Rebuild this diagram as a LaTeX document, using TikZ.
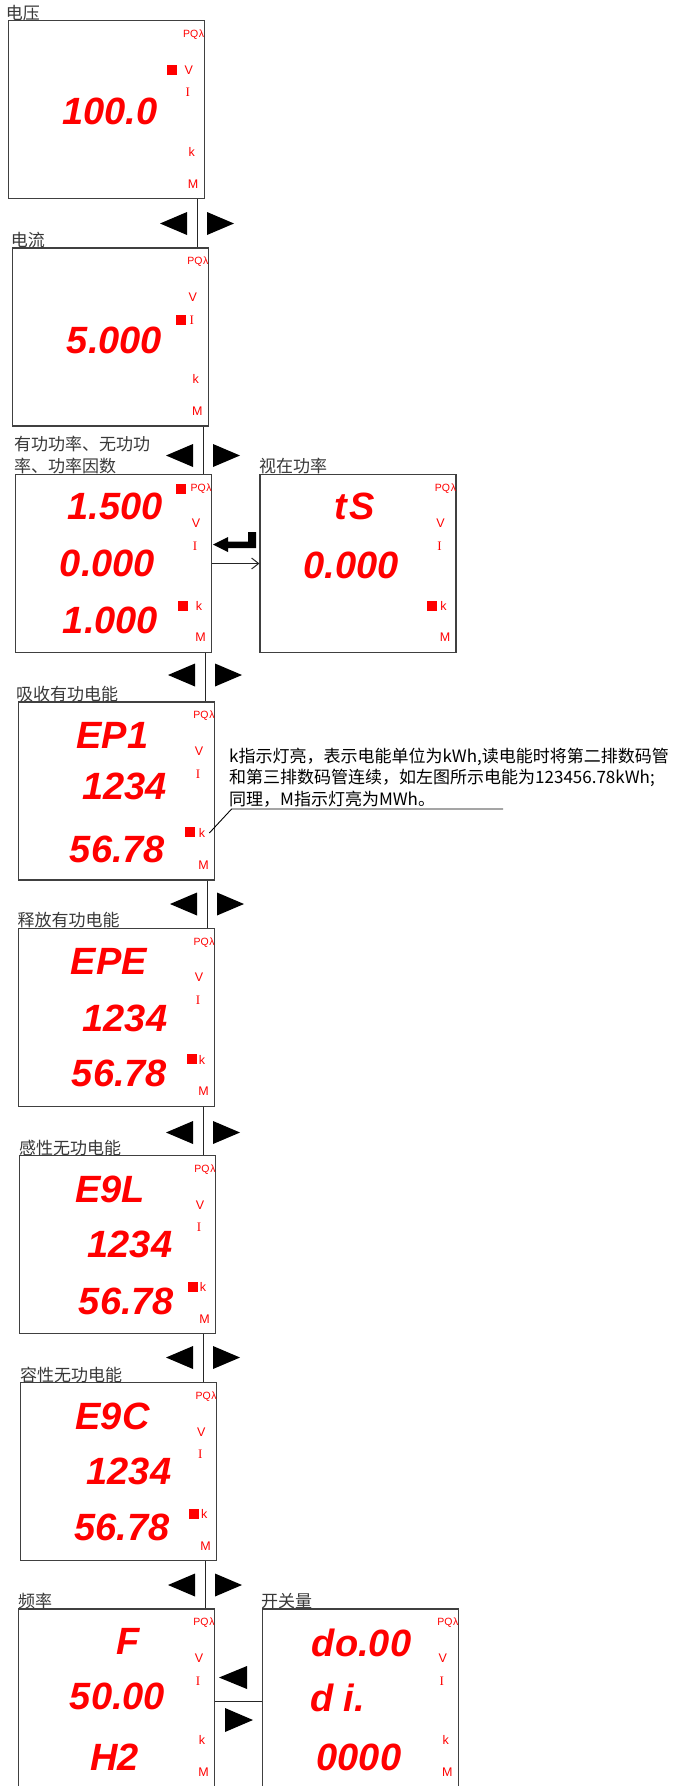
\documentclass[tikz,border=0pt]{standalone}
\usepackage{fontspec}
\setmainfont{Liberation Sans}
\newfontfamily\cjk{Noto Sans CJK SC}
\newfontfamily\segfont{Liberation Sans}
\newfontfamily\serifI{Liberation Serif}
\usetikzlibrary{arrows.meta}
\newcommand\indic[3]{%
  \node[pq] (#1pq) at ({#2-10.5},{#3+14}) {PQ\kern0.6ptλ};
  \node[ind] (#1v) at ({#2-15.5},{#3+49}) {V};
  \node[indI] (#1i) at ({#2-16.5},{#3+72}) {I};
  \node[ind] (#1k) at ({#2-12.5},{#3+131}) {k};
  \node[ind] (#1m) at ({#2-11},{#3+163}) {M};
}
\newcommand\navpair[2]{%
  \fill[nav] ({#1-10},{#2-11.5}) -- ({#1-10},{#2+11.5}) -- ({#1-37},#2) -- cycle;
  \fill[nav] ({#1+10},{#2-11.5}) -- ({#1+10},{#2+11.5}) -- ({#1+37},#2) -- cycle;
}
\begin{document}
\begin{tikzpicture}[x=1pt,y=-1pt,
  box/.style={draw=black!75, line width=1.2pt, minimum width=196pt, minimum height=178pt, inner sep=0pt},
  ttl/.style={font=\cjk\fontsize{17}{22}\selectfont, text=black!78, anchor=south west, inner sep=0pt, align=left},
  seg/.style={font=\segfont\bfseries\itshape\fontsize{38}{40}\selectfont, text=red, inner sep=0pt},
  ind/.style={font=\fontsize{12.5}{13}\selectfont, text=red, inner sep=0pt},
  pq/.style={font=\fontsize{10.5}{11}\selectfont, text=red, inner sep=0pt},
  indI/.style={font=\serifI\fontsize{13}{13}\selectfont, text=red, inner sep=0pt},
  lamp/.style={fill=red, minimum size=10pt, inner sep=0pt},
  link/.style={draw=black!85, line width=1pt},
  nav/.style={fill=black},
  note/.style={font=\cjk\fontsize{17}{21.5}\selectfont, text=black, anchor=base west, inner sep=0pt, align=left}
]
\useasboundingbox (0,0) rectangle (678,1786);
% boxes
\node[box] (b1) at (106.2,109.7) {};
\node[box] (b2) at (110.3,337) {};
\node[box] (b3) at (113.6,563.5) {};
\node[box] (b4) at (358,563.5) {};
\node[box] (b5) at (116.5,791) {};
\node[box] (b6) at (116.6,1017.5) {};
\node[box] (b7) at (117.5,1244.7) {};
\node[box] (b8) at (118.7,1471.7) {};
\node[box, minimum height=184pt] (b9) at (116.5,1701) {};
\node[box, minimum height=184pt] (b10) at (360.3,1701) {};
% titles
\node[ttl] (t1) at (5.7,20.7) {电压};
\node[ttl] (t2) at (10.7,248) {电流};
\node[ttl] (t3) at (14,474) {有功功率、无功功\\率、功率因数};
\node[ttl] (t4) at (259,474) {视在功率};
\node[ttl] (t5) at (16,702) {吸收有功电能};
\node[ttl] (t6) at (17.3,928) {释放有功电能};
\node[ttl] (t7) at (19,1155.7) {感性无功电能};
\node[ttl] (t8) at (20,1382.7) {容性无功电能};
\node[ttl] (t9) at (18,1609) {频率};
\node[ttl] (t10) at (261,1609) {开关量};
% indicators
\indic{b1}{204.2}{20.7}
\indic{b2}{208.3}{248}
\indic{b3}{211.6}{474.5}
\indic{b4}{456}{474.5}
\indic{b5}{214.5}{702}
\indic{b6}{214.6}{928.5}
\indic{b7}{215.5}{1155.7}
\indic{b8}{216.7}{1382.7}
\indic{b9}{214.5}{1609}
\indic{b10}{458.3}{1609}
% lamps
\node[lamp] (l1) at (172,70) {};
\node[lamp] (l2) at (181,320) {};
\node[lamp] (l3a) at (181,488.5) {};
\node[lamp] (l3b) at (183,606) {};
\node[lamp] (l4) at (431.5,605.5) {};
\node[lamp] (l5) at (189.5,832) {};
\node[lamp] (l6) at (191.5,1058.5) {};
\node[lamp] (l7) at (193,1287) {};
\node[lamp] (l8) at (194,1514) {};
% seven segment readings
\node[seg] (d1) at (110,111) {100.0};
\node[seg] (d2) at (114.5,340) {5.000};
\node[seg] (d3a) at (115,506.5) {1.500};
\node[seg] (d3b) at (107.5,563.5) {0.000};
\node[seg] (d3c) at (110.5,620) {1.000};
\node[seg] (d4a) at (354.5,506) {t\kern3pt S};
\node[seg] (d4b) at (351,565) {0.000};
\node[seg] (d5a) at (112.5,735) {EP1};
\node[seg] (d5b) at (124.5,786.5) {1234};
\node[seg] (d5c) at (117.5,849) {56.78};
\node[seg] (d6a) at (109,961.5) {EPE};
\node[seg] (d6b) at (125,1018.5) {1234};
\node[seg] (d6c) at (119.5,1073.5) {56.78};
\node[seg] (d7a) at (110,1189) {E9L};
\node[seg] (d7b) at (130,1244.5) {1234};
\node[seg] (d7c) at (126.5,1301) {56.78};
\node[seg] (d8a) at (112.5,1416) {E9C};
\node[seg] (d8b) at (129,1471.5) {1234};
\node[seg] (d8c) at (122,1527.5) {56.78};
\node[seg] (d9a) at (128,1641.5) {F};
\node[seg] (d9b) at (117.5,1696.5) {50.00};
\node[seg] (d9c) at (114.5,1757.5) {H2};
\node[seg] (d10a) at (361.5,1642.5) {do.00};
\node[seg] (d10b) at (337.5,1697.5) {d i.};
\node[seg] (d10c) at (359,1757.5) {0000};
% vertical links
\coordinate (x1) at (197,0);
\coordinate (x2) at (203,0);
\coordinate (x3) at (205,0);
\coordinate (x4) at (207,0);
\coordinate (x5) at (203,0);
\coordinate (x6) at (203,0);
\coordinate (x7) at (205,0);
\draw[link] (b1.south -| x1) -- (b2.north -| x1);
\draw[link] (b2.south -| x2) -- (b3.north -| x2);
\draw[link] (b3.south -| x3) -- (b5.north -| x3);
\draw[link] (b5.south -| x4) -- (b6.north -| x4);
\draw[link] (b6.south -| x5) -- (b7.north -| x5);
\draw[link] (b7.south -| x6) -- (b8.north -| x6);
\draw[link] (b8.south -| x7) -- (b9.north -| x7);
\navpair{197}{223.5}
\navpair{203}{455.5}
\navpair{205}{675}
\navpair{207}{904}
\navpair{203}{1132.5}
\navpair{203}{1357.5}
\navpair{205}{1585}
% side links
\draw[link, -{Straight Barb[length=7pt,width=11pt]}] (b3.east) -- (b4.west);
\fill[nav] (213,544.5) -- (228,537) -- (228,541.7) -- (248,541.7) -- (248,532) -- (256,532) -- (256,548) -- (228,548) -- (228,552) -- cycle;
\draw[link] (b9.east) -- (b10.west);
\fill[nav] (247,1666) -- (247,1689) -- (219,1677.5) -- cycle;
\fill[nav] (225,1708) -- (225,1732) -- (253,1720) -- cycle;
% annotation (base = last line)
\node[note] (ann) at (229,805) {k指示灯亮，表示电能单位为kWh,读电能时将第二排数码管\\和第三排数码管连续，如左图所示电能为123456.78kWh;\\同理，M指示灯亮为MWh。};
\coordinate (aL) at (231.6,809);
\coordinate (aR) at (503,809);
\draw[line width=0.9pt] ([xshift=4pt]b5k.east) -- (aL) -- (aR);
\end{tikzpicture}
\end{document}
